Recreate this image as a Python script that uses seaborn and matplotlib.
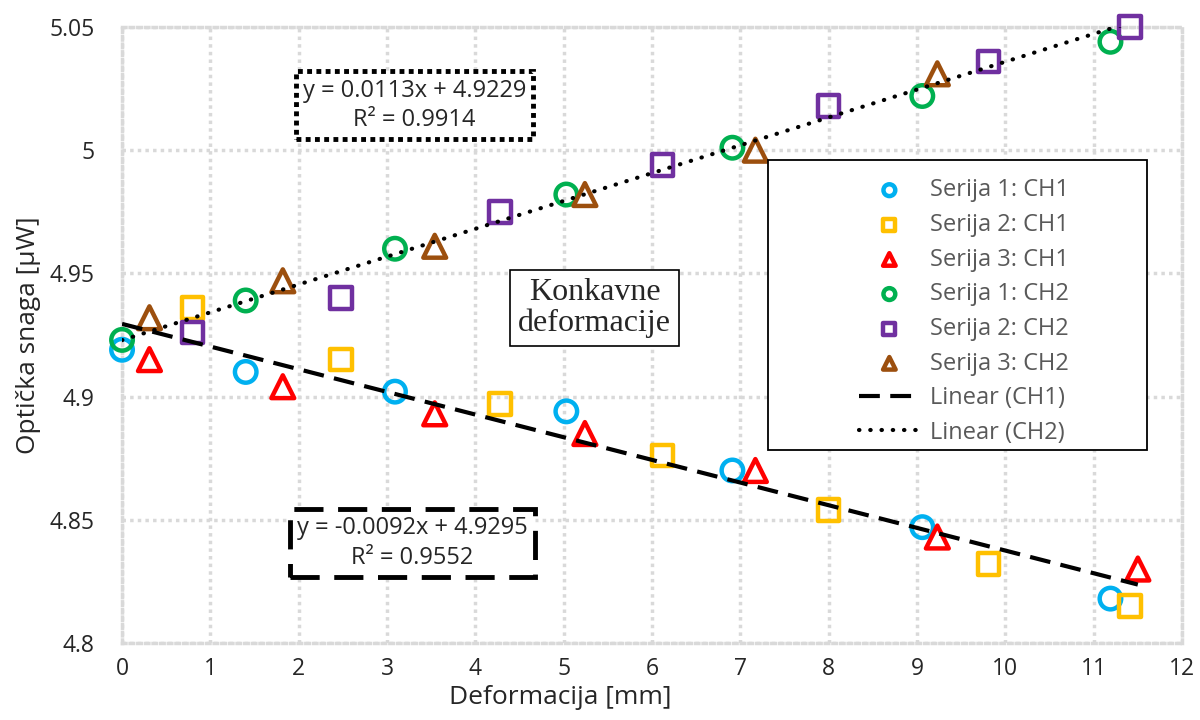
import matplotlib
matplotlib.use("Agg")
import matplotlib.pyplot as plt
from matplotlib.patches import Rectangle
import seaborn as sns
import numpy as np
import pandas as pd

# podaci ocitani sa grafika
x_s1 = [0.0, 1.40, 3.09, 5.03, 6.91, 9.06, 11.19]
x_s2 = [0.80, 2.48, 4.28, 6.12, 8.0, 9.81, 11.41]
x_s3 = [0.31, 1.82, 3.54, 5.24, 7.17, 9.23, 11.5]
x_s3_ch2 = [0.31, 1.82, 3.54, 5.24, 7.17, 9.23]

s1_ch1 = [4.919, 4.910, 4.902, 4.894, 4.870, 4.847, 4.818]
s2_ch1 = [4.936, 4.915, 4.897, 4.876, 4.854, 4.832, 4.815]
s3_ch1 = [4.915, 4.904, 4.893, 4.885, 4.870, 4.843, 4.830]
s1_ch2 = [4.923, 4.939, 4.960, 4.982, 5.001, 5.022, 5.044]
s2_ch2 = [4.926, 4.940, 4.975, 4.994, 5.018, 5.036, 5.050]
s3_ch2 = [4.932, 4.947, 4.961, 4.982, 5.000, 5.031]

# linearni trend (Excel)
k_ch1, n_ch1 = -0.0092, 4.9295
k_ch2, n_ch2 = 0.0113, 4.9229

sns.set_style("white")
plt.rcParams['font.family'] = ['Open Sans', 'DejaVu Sans']

fig = plt.figure(figsize=(12, 7.2), dpi=100)
ax = fig.add_axes([0.1017, 0.107, 0.8833, 0.8555])

serije = [
    ("Serija 1: CH1", x_s1, s1_ch1, "o", "#00B0F0"),
    ("Serija 2: CH1", x_s2, s2_ch1, "s", "#FFC000"),
    ("Serija 3: CH1", x_s3, s3_ch1, "^", "#FF0000"),
    ("Serija 1: CH2", x_s1, s1_ch2, "o", "#00B050"),
    ("Serija 2: CH2", x_s2, s2_ch2, "s", "#7030A0"),
    ("Serija 3: CH2", x_s3_ch2, s3_ch2, "^", "#9C4F0E"),
]

for label, xs, ys, m, c in serije:
    df = pd.DataFrame({"x": xs, "y": ys})
    sns.scatterplot(data=df, x="x", y="y", ax=ax, marker=m,
                    s=270 if m == "^" else 240,
                    facecolor="none", edgecolor=c, linewidth=3.2,
                    label=label, zorder=3, clip_on=False)

x_all = x_s1 + x_s2 + x_s3
xt = np.array([min(x_all), max(x_all)])
sns.lineplot(x=xt, y=k_ch1 * xt + n_ch1, ax=ax, color="black", lw=3,
             label="Linear (CH1)", zorder=4)
ax.lines[-1].set_dashes((5, 2.5))
sns.lineplot(x=xt, y=k_ch2 * xt + n_ch2, ax=ax, color="black", lw=3,
             label="Linear (CH2)", zorder=4)
ax.lines[-1].set_linestyle((0, (0.1, 2.6)))
ax.lines[-1].set_dash_capstyle("round")

ax.set_xlim(0, 12)
ax.set_ylim(4.8, 5.05)
ax.set_xticks(range(0, 13))
ax.set_yticks([4.8, 4.85, 4.9, 4.95, 5.0, 5.05])
ax.set_yticklabels(["4.8", "4.85", "4.9", "4.95", "5", "5.05"])
ax.tick_params(labelsize=16.5, length=0)
ax.tick_params(axis="y", pad=20)
ax.tick_params(axis="x", pad=10)
ax.grid(True, color="#d9d9d9", linestyle=(0, (1, 1.2)), linewidth=2.5)
for sp in ax.spines.values():
    sp.set_color("#d9d9d9")
    sp.set_linestyle((0, (1, 1.2)))
    sp.set_linewidth(2.5)

ax.set_xlabel("Deformacija [mm]", fontsize=19, va="center")
ax.set_ylabel("Optička snaga [µW]", fontsize=19, va="center")
ax.xaxis.set_label_coords(0.413, -0.088)
ax.yaxis.set_label_coords(-0.088, 0.5)

# jednacine trenda
ax.text(0.276, 0.873, "y = 0.0113x + 4.9229\nR² = 0.9914", transform=ax.transAxes,
        ha="center", va="center", fontsize=17, linespacing=1.3,
        bbox=dict(boxstyle="square,pad=0.3", fc="white", ec="black",
                  lw=3.5, ls=(0, (1, 0.9))), zorder=5)
ax.text(0.274, 0.162, "y = -0.0092x + 4.9295\nR² = 0.9552", transform=ax.transAxes,
        ha="center", va="center", fontsize=17, linespacing=1.3,
        bbox=dict(boxstyle="square,pad=0.3", fc="white", ec="black",
                  lw=3.5, ls=(0, (6, 3))), zorder=5)
ax.text(0.446, 0.544, "Konkavne\ndeformacije", transform=ax.transAxes,
        ha="center", va="center", fontsize=23, family="Liberation Serif",
        linespacing=1.05,
        bbox=dict(boxstyle="square,pad=0.25", fc="white", ec="black", lw=1.2),
        zorder=5)

# okvir legende
ax.add_patch(Rectangle((0.609, 0.313), 0.358, 0.471, transform=ax.transAxes,
                       fc="white", ec="black", lw=1.3, zorder=6, clip_on=False))
leg = ax.legend(loc="center", bbox_to_anchor=(0.794, 0.538), frameon=False,
                fontsize=17, labelspacing=0.45, handlelength=2.6,
                handletextpad=0.4, markerscale=0.55)
leg.set_zorder(7)
for t in leg.get_texts():
    t.set_color("#595959")

fig.savefig("out.png", dpi=100)
